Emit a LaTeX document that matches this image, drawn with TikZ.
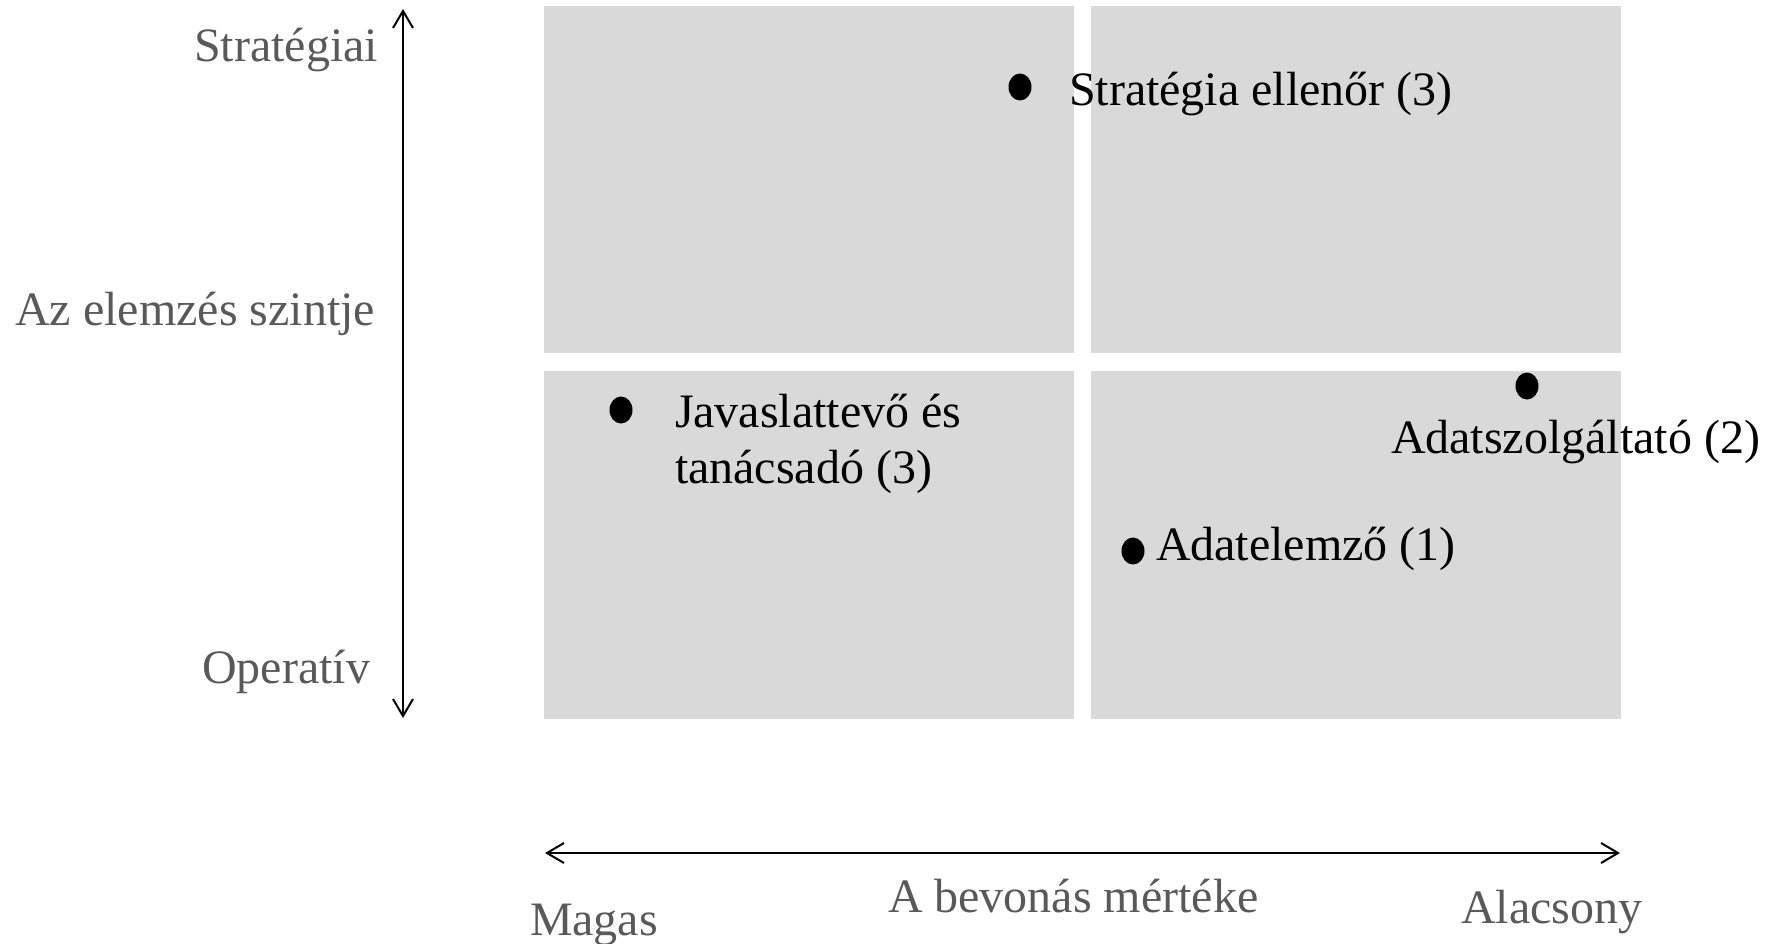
\documentclass[tikz,border=0pt]{standalone}
\usepackage{fontspec}
\setmainfont{Liberation Serif}
\usetikzlibrary{arrows.meta,shapes.geometric}
\definecolor{cellgray}{HTML}{D9D9D9}
\definecolor{axisgray}{HTML}{595959}
\begin{document}
\begin{tikzpicture}[x=1pt,y=-1pt,
  cell/.style={fill=cellgray,draw=none},
  lbl/.style={font=\fontsize{48}{56}\selectfont,inner sep=0pt,outer sep=0pt},
  axislbl/.style={lbl,text=axisgray},
  dotmark/.style={ellipse,fill=black,draw=none,inner sep=0pt,minimum width=23pt,minimum height=27pt},
  axisline/.style={line width=2pt,
    {Straight Barb[length=17pt,width=20pt,line width=2pt]}-{Straight Barb[length=17pt,width=20pt,line width=2pt]}}]
\useasboundingbox (0,0) rectangle (1778,944);

% quadrants
\fill[cell] (544,6) rectangle (1074,353);
\fill[cell] (1091,6) rectangle (1621,353);
\fill[cell] (544,371) rectangle (1074,719);
\fill[cell] (1091,371) rectangle (1621,719);

% axes
\coordinate (vtop) at (403,9);
\coordinate (vbot) at (403,718);
\coordinate (hleft) at (545,853);
\coordinate (hright) at (1620,853);
\draw[axisline] (vtop) -- (vbot);
\draw[axisline] (hleft) -- (hright);

% axis labels
\node[axislbl,anchor=base east] (strat) at (378,62) {Stratégiai};
\node[axislbl,anchor=base east] (szint) at (375,325) {Az elemzés szintje};
\node[axislbl,anchor=base east] (oper) at (370,683) {Operatív};
\node[axislbl,anchor=base west] (magas) at (530,935) {Magas};
\node[axislbl,anchor=base west] (bevon) at (888,912) {A bevonás mértéke};
\node[axislbl,anchor=base west] (alacs) at (1461,923) {Alacsony};

% roles
\node[dotmark] (d1) at (1020,87) {};
\node[lbl,anchor=base west] (t1) at (1069,106) {Stratégia ellenőr (3)};

\node[dotmark] (d2) at (621,410) {};
\node[lbl,anchor=base west] (t2a) at (675,427) {Javaslattevő és};
\node[lbl,anchor=base west] (t2b) at (675,483) {tanácsadó (3)};

\node[dotmark] (d3) at (1527,386) {};
\node[lbl,anchor=base west] (t3) at (1391,453) {Adatszolgáltató (2)};

\node[dotmark] (d4) at (1133,551) {};
\node[lbl,anchor=base west] (t4) at (1156,560) {Adatelemző (1)};
\end{tikzpicture}
\end{document}
